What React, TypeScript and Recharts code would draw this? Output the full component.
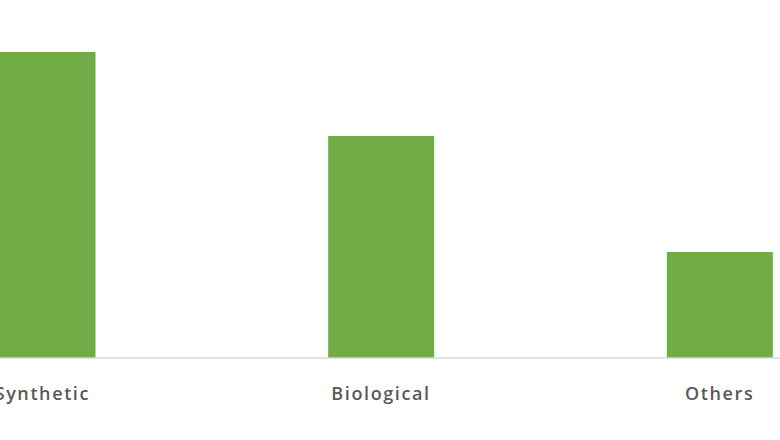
import { BarChart, Bar, XAxis, YAxis } from "recharts";

const categories = ["Synthetic", "Biological", "Others"];
const shares = [306, 222, 106];

const data = categories.map((name, i) => ({ name, value: shares[i] }));

export default function App() {
  return (
    <div
      style={{
        position: "fixed",
        top: 0,
        left: 0,
        width: 780,
        height: 440,
        overflow: "hidden",
        background: "#fff",
      }}
    >
      <div style={{ position: "absolute", left: -127, top: 0 }}>
        <BarChart
          width={1016}
          height={440}
          data={data}
          margin={{ top: 0, right: 0, bottom: 42, left: 0 }}
          barCategoryGap="34.4%"
        >
          <XAxis
            dataKey="name"
            height={40}
            tickLine={false}
            tickMargin={23}
            axisLine={{ stroke: "#d9d9d9", strokeWidth: 1.5 }}
            tick={{
              fill: "#595959",
              fontSize: 18,
              fontWeight: 600,
              letterSpacing: 1.6,
              fontFamily: "Open Sans",
            }}
          />
          <YAxis hide domain={[0, 358]} />
          <Bar dataKey="value" fill="#70ad47" isAnimationActive={false} />
        </BarChart>
      </div>
    </div>
  );
}
